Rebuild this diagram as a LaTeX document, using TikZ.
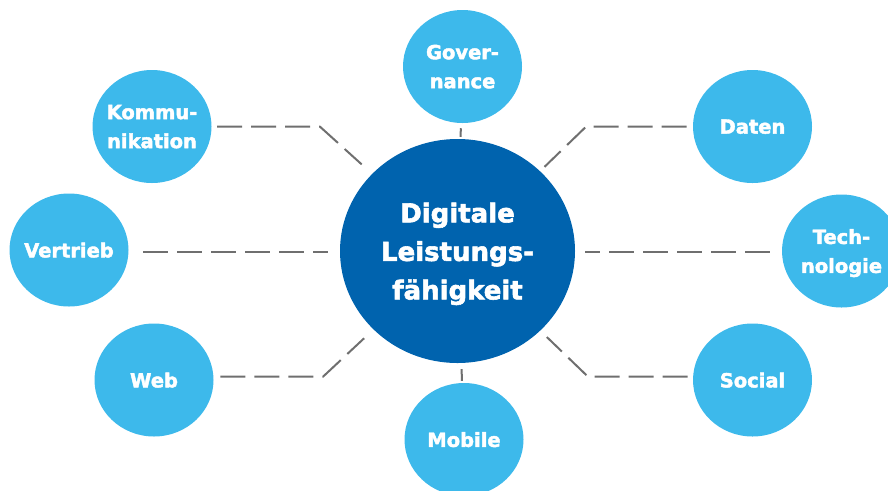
\documentclass[tikz,border=0pt]{standalone}
\usepackage{fontspec}
\setmainfont{DejaVu Sans}[BoldFeatures={FakeBold=2.2}]
\usetikzlibrary{shapes.geometric}
\definecolor{lightblue}{HTML}{3DB9EB}
\definecolor{darkblue}{HTML}{0063AE}
\definecolor{conngray}{HTML}{6F6F6F}
\begin{document}
\begin{tikzpicture}[x=0.75pt,y=-0.75pt,
 bub/.style={ellipse, fill=lightblue, minimum width=89.25pt, minimum height=84.75pt, inner sep=0pt},
 bubtext/.style={text=white, font=\bfseries\fontsize{14.6}{21.75}\selectfont, align=center, text depth=0pt, inner sep=0pt},
 hub/.style={ellipse, fill=darkblue, minimum width=176.25pt, minimum height=168pt, inner sep=0pt},
 hubtext/.style={text=white, font=\bfseries\fontsize{19.5}{28.9}\selectfont, align=center, text depth=0pt, inner sep=0pt},
 conn/.style={draw=conngray, line width=1.5pt, dash pattern=on 18.75pt off 6.75pt},
]
\useasboundingbox (0,0) rectangle (888,490);
\clip (0,0) rectangle (888,490);

\node[hub, label={[hubtext]center:Digitale\\Leistungs-\\fähigkeit}] (hub) at (457.5,251) {};

\node[bub, label={[bubtext]center:Gover-\\nance}] (gov) at (462.5,66.5) {};
\node[bub, label={[bubtext]center:Kommu-\\nikation}] (komm) at (152,126.5) {};
\node[bub, label={[bubtext]center:Daten}] (daten) at (752.5,126.5) {};
\node[bub, label={[bubtext]center:Vertrieb}] (vert) at (69,250) {};
\node[bub, label={[bubtext]center:Tech-\\nologie}] (tech) at (841.5,251) {};
\node[bub, label={[bubtext]center:Web}] (web) at (154,380) {};
\node[bub, label={[bubtext]center:Social}] (social) at (752.5,380) {};
\node[bub, label={[bubtext]center:Mobile}] (mob) at (464,439.5) {};

\coordinate (k1) at (320,126.7);
\coordinate (d1) at (586,126.7);
\coordinate (w1) at (323,376.7);
\coordinate (s1) at (588,376.7);
\coordinate (v1) at (200,251.7);

\draw[conn, shorten <=4.1pt, shorten >=10.5pt] (komm.east |- k1) -- (k1) -- (hub);
\draw[conn, shorten <=4.5pt, shorten >=4.5pt] (daten.west |- d1) -- (d1) -- (hub);
\draw[conn, shorten <=4.9pt, shorten >=9.5pt] (web.east |- w1) -- (w1) -- (hub);
\draw[conn, shorten <=3.75pt, shorten >=6.8pt] (social.west |- s1) -- (s1) -- (hub);
\draw[conn, shorten <=10.9pt, shorten >=9pt] (vert.east |- v1) -- (hub.west |- v1);
\draw[conn, shorten <=9pt, shorten >=7.5pt] (tech.west |- v1) -- (hub.east |- v1);
\draw[conn, shorten <=3.75pt, shorten >=1.5pt] (gov) -- (hub);
\draw[conn, shorten <=1.5pt, shorten >=4.5pt] (mob) -- (hub);
\end{tikzpicture}
\end{document}
